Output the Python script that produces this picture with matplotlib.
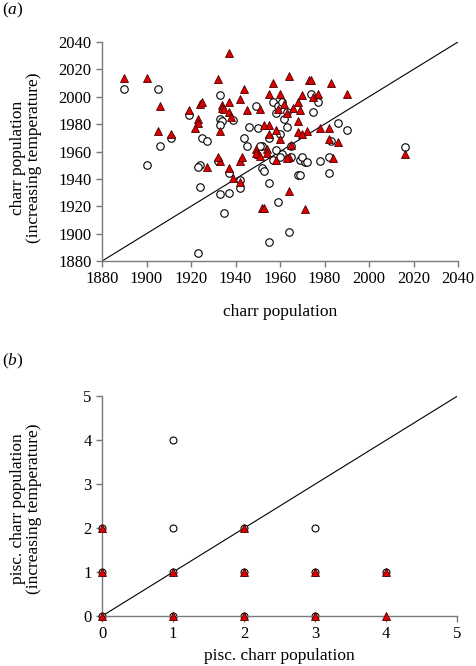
import matplotlib
matplotlib.use('Agg')
import matplotlib.pyplot as plt
import numpy as np

plt.rcParams['font.family'] = ['Liberation Serif', 'DejaVu Serif']
plt.rcParams['mathtext.fontset'] = 'custom'
plt.rcParams['mathtext.rm'] = 'Liberation Serif'
plt.rcParams['mathtext.it'] = 'Liberation Serif:italic'

# panel (a): charr population, baseline (x) vs increasing temperature (y)
circ_a_x = [1890, 1905, 1906, 1911, 1900, 1919, 1925, 1927, 1924, 1923, 1924, 1923,
            1933, 1933, 1934, 1933, 1939, 1949, 1944, 1945, 1950, 1932, 1937, 1933,
            1937, 1935, 1942, 1942, 1952, 1952, 1953, 1955, 1955, 1957, 1959, 1961,
            1958, 1963, 1962, 1963, 1960, 1955, 1951, 1958, 1961, 1965, 1957, 1960,
            1965, 1969, 1971, 1968, 1959, 1964, 1974, 1977, 1975, 1986, 1990, 1983,
            2016, 1982, 1978, 1982, 1970, 1972, 1969, 1946]
circ_a_y = [2006, 2006, 1964, 1970, 1950, 1987, 1970, 1968, 1950, 1949, 1934, 1886,
            2001, 1984, 1982, 1979, 1983, 1993, 1970, 1964, 1977, 1953, 1944, 1929,
            1930, 1915, 1939, 1933, 1964, 1948, 1946, 1937, 1894, 1996, 1993, 1996,
            1988, 1989, 1984, 1978, 1973, 1970, 1964, 1961, 1958, 1964, 1954, 1956,
            1956, 1954, 1952, 1943, 1923, 1901, 2002, 1996, 1989, 1981, 1976, 1968,
            1963, 1956, 1953, 1944, 1956, 1952, 1943, 1978]
tri_a_x = [1890, 1900, 1906, 1905, 1911, 1919, 1924, 1925, 1923, 1923, 1922, 1927,
           1932, 1934, 1934, 1935, 1937, 1937, 1938, 1933, 1937, 1942, 1944, 1945,
           1951, 1933, 1937, 1939, 1942, 1942, 1949, 1952, 1964, 1957, 1955, 1960,
           1973, 1962, 1959, 1963, 1966, 1968, 1970, 1969, 1968, 1955, 1958, 1953,
           1955, 1960, 1954, 1950, 1943, 1932, 1968, 1972, 1965, 1964, 1963, 1949,
           1951, 1954, 1958, 1964, 1953, 1971, 1974, 1983, 1990, 1975, 1977, 1978,
           1982, 1970, 1982, 1986, 2016, 1984]
tri_a_y = [2014, 2014, 1993, 1975, 1973, 1990, 1995, 1996, 1984, 1981, 1977, 1949,
           2013, 1994, 1992, 1991, 1996, 1989, 1985, 1975, 2032, 1998, 2006, 1990,
           1991, 1953, 1948, 1941, 1938, 1953, 1962, 1919, 2015, 2010, 2002, 2002,
           2012, 1995, 1991, 1988, 1992, 1996, 2001, 1990, 1982, 1979, 1976, 1979,
           1973, 1969, 1962, 1958, 1956, 1956, 1974, 1975, 1965, 1956, 1955, 1959,
           1957, 1959, 1954, 1931, 1919, 1918, 2012, 2010, 2002, 2000, 2002, 1977,
           1977, 1973, 1969, 1967, 1958, 1955]

# panel (b): piscivorous charr population
circ_b_x = [0, 0, 0, 1, 1, 1, 1, 2, 2, 2, 3, 3, 3, 4]
circ_b_y = [0, 1, 2, 0, 1, 2, 4, 0, 1, 2, 0, 1, 2, 1]
tri_b_x = [0, 0, 0, 1, 1, 2, 2, 2, 3, 3, 4, 4]
tri_b_y = [0, 1, 2, 0, 1, 0, 1, 2, 0, 1, 0, 1]

RED = '#dd0000'
AXGRAY = '#7a7a7a'

fig = plt.figure(figsize=(4.76, 6.66), dpi=100)


def style_axes(ax, lo, hi, ticks):
    ax.set_xlim(lo, hi)
    ax.set_ylim(lo, hi)
    ax.set_xticks(ticks)
    ax.set_yticks(ticks)
    for s in ['top', 'right']:
        ax.spines[s].set_visible(False)
    for s in ['left', 'bottom']:
        ax.spines[s].set_color(AXGRAY)
        ax.spines[s].set_linewidth(1.0)
    ax.tick_params(direction='out', length=4.5, width=1.0, color=AXGRAY,
                   labelsize=12, pad=3)
    ax.plot([lo, hi], [lo, hi], color='black', lw=0.8, zorder=1)


ax1 = fig.add_axes([0.2143, 0.608, 0.748, 0.329])
style_axes(ax1, 1880, 2040, np.arange(1880, 2041, 20))
ax1.plot(circ_a_x, circ_a_y, 'o', ms=5.4, mfc='white', mec='black', mew=0.8,
         zorder=2, clip_on=False)
ax1.plot(tri_a_x, tri_a_y, '^', ms=6.4, mfc=RED, mec='#4a0000', mew=0.6,
         zorder=3, clip_on=False)
ax1.set_xlabel('charr population', fontsize=12.5, labelpad=12)
ax1.set_ylabel('charr population\n(increasing temperature)', fontsize=12.5,
               linespacing=1.05)
ax1.yaxis.set_label_coords(-0.168, 0.47)

ax2 = fig.add_axes([0.2143, 0.075, 0.746, 0.330])
style_axes(ax2, 0, 5, np.arange(0, 6))
ax2.plot(circ_b_x, circ_b_y, 'o', ms=5.0, mfc='white', mec='black', mew=0.8,
         zorder=2, clip_on=False)
ax2.plot(tri_b_x, tri_b_y, '^', ms=5.6, mfc=RED, mec='#4a0000', mew=0.6,
         zorder=3, clip_on=False)
ax2.set_xlabel('pisc. charr population', fontsize=12.5, labelpad=4)
ax2.set_ylabel('pisc. charr population\n(increasing temperature)', fontsize=12.5,
               linespacing=1.05)
ax2.yaxis.set_label_coords(-0.168, 0.49)

fig.text(0.005, 0.985, r'($\mathit{a}$)', fontsize=12.5, va='center', ha='left')
fig.text(0.005, 0.457, r'($\mathit{b}$)', fontsize=12.5, va='center', ha='left')

fig.savefig('out.png', dpi=100, facecolor='white')
